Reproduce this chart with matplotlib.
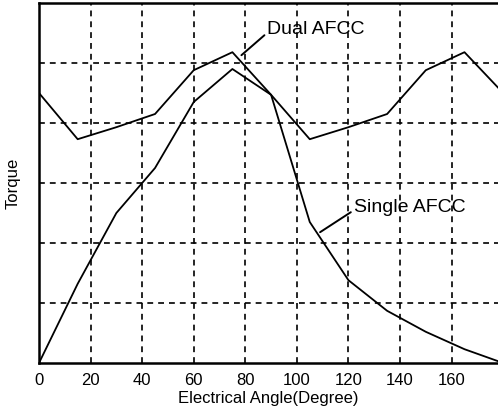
import numpy as np
import matplotlib
matplotlib.use('Agg')
import matplotlib.pyplot as plt

plt.rcParams['font.family'] = ['Liberation Sans', 'DejaVu Sans']

# electrical angle (degree), 15 degree steps
angle = [0, 15, 30, 45, 60, 75, 90, 105, 120, 135, 150, 165, 180]
# torque, arbitrary units
dual_afcc = [4.5, 3.73, 3.93, 4.15, 4.88, 5.18, 4.47, 3.73, 3.93, 4.15, 4.88, 5.18, 4.5]
single_afcc = [0.0, 1.32, 2.5, 3.25, 4.35, 4.9, 4.47, 2.35, 1.38, 0.87, 0.52, 0.23, 0.0]

xticks = [0, 20, 40, 60, 80, 100, 120, 140, 160]

fig = plt.figure(figsize=(4.98, 4.15), dpi=100)
ax = fig.add_axes([39/498, 52/415, 1 - 39/498, 360/415])

ax.plot(angle, dual_afcc, color='black', lw=1.3)
ax.plot(angle, single_afcc, color='black', lw=1.3)

ax.set_xlim(0, 178)
ax.set_ylim(0, 6)
ax.set_xticks(xticks)
ax.set_yticks(range(1, 7))
ax.set_yticklabels([])
ax.tick_params(axis='both', length=0, labelsize=12, pad=7)
ax.grid(True, color='black', linestyle=(0, (3.5, 3)), lw=1.2)

for s in ['left', 'bottom', 'top']:
    ax.spines[s].set_linewidth(1.8)
ax.spines['right'].set_visible(False)

ax.set_xlabel('Electrical Angle(Degree)', fontsize=12, labelpad=2)
ax.set_ylabel('Torque', fontsize=12, labelpad=6)

ax.annotate('Dual AFCC', xy=(78.5, 5.13), xytext=(88.5, 5.56),
            fontsize=14, va='center', ha='left',
            arrowprops=dict(arrowstyle='-', color='black', lw=1.4,
                            shrinkA=0, shrinkB=0, relpos=(0, 0.3)))
ax.annotate('Single AFCC', xy=(109, 2.18), xytext=(122, 2.6),
            fontsize=14, va='center', ha='left',
            arrowprops=dict(arrowstyle='-', color='black', lw=1.4,
                            shrinkA=0, shrinkB=0, relpos=(0, 0.3)))

fig.savefig('out.png', dpi=100)
